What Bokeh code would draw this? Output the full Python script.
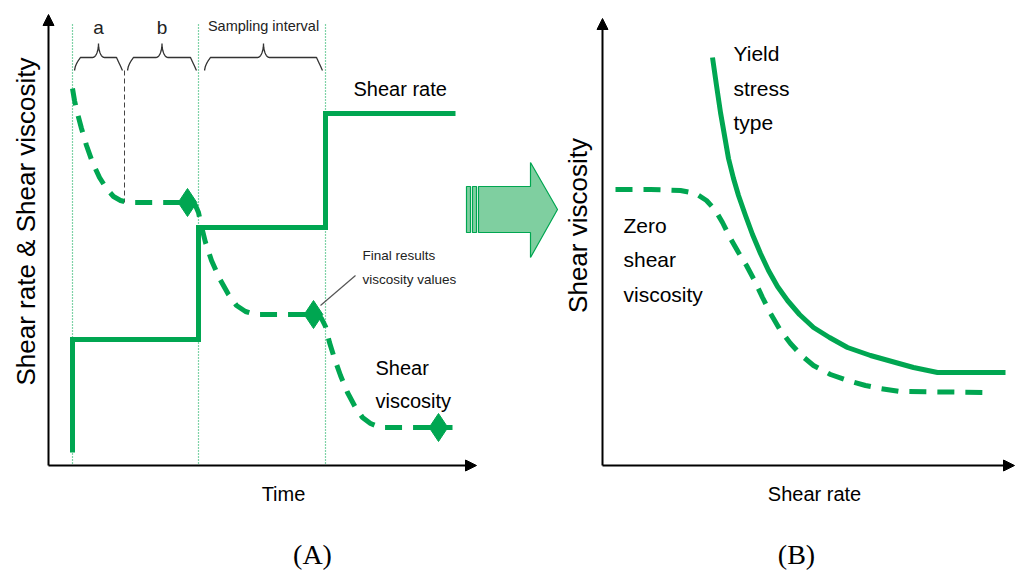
import numpy as np
from bokeh.plotting import figure
from bokeh.models import Range1d, Arrow, NormalHead
from bokeh.core.properties import value
from bokeh.embed import file_html
from bokeh.resources import INLINE

GREEN = "#00a651"
LIGHT = "#7fcfa0"
SANS = value("Liberation Sans")

# ---------------- Panel A : time test ----------------
# shear-rate steps (time, level)
rate_x = [72, 72, 198, 198, 325, 325, 455]
rate_y = [452, 339, 339, 227, 227, 113, 113]
# shear viscosity response (dashed)
visc_x = [72, 74, 77, 81, 86, 92, 99, 106, 113, 120, 128, 187,
          190, 195, 198, 201, 205, 211, 219, 228, 236, 245, 255, 313,
          316, 321, 325, 329, 334, 340, 347, 355, 362, 370, 380, 438, 452]
visc_y = [88, 100, 113, 128, 145, 162, 177, 188, 196, 200, 202, 202,
          202, 205, 212, 226, 242, 260, 278, 294, 305, 311, 314, 314,
          314, 318, 326, 342, 358, 375, 392, 407, 417, 423, 427, 427, 427]
# final results (diamonds)
final_x = [187, 313, 438]
final_y = [202, 314, 427]
# interval boundaries
bound_x = [72, 198, 325]
sep_x = [124]
# braces
brace_start = [74, 127, 204]
brace_end = [122, 196, 322]
brace_label = ["a", "b", "Sampling interval"]
brace_label_size = ["19px", "19px", "14.5px"]

# ---------------- Panel B : flow curves ----------------
yield_x = [712, 716, 720, 724, 728, 733, 738, 745, 752, 760, 768, 777, 787,
           799, 813, 829, 847, 870, 895, 913, 937, 1005]
yield_y = [57, 85, 112, 135, 158, 178, 195, 215, 234, 253, 270, 286, 300,
           314, 327, 337, 347, 355, 362, 367, 372, 372]
zero_x = [615, 650, 680, 695, 706, 715, 722, 730, 738, 746, 754, 762, 770,
          780, 790, 801, 813, 830, 847, 865, 880, 900, 990]
zero_y = [189, 189, 190, 193, 200, 210, 222, 238, 252, 265, 280, 297, 313,
          330, 343, 355, 365, 374, 380, 385, 388, 391, 392]

p = figure(width=1016, height=572, output_backend="svg", toolbar_location=None,
           x_range=Range1d(0, 1016), y_range=Range1d(572, 0),
           min_border=0, x_axis_location=None, y_axis_location=None)
p.grid.visible = False
p.outline_line_color = None
p.background_fill_color = "white"

# axes
for xs, ys, xe, ye in [(48, 465, 48, 14), (48, 465, 476, 465),
                       (602, 465, 602, 18), (602, 465, 1014, 465)]:
    p.add_layout(Arrow(end=NormalHead(size=11, fill_color="black", line_color="black"),
                       x_start=xs, y_start=ys, x_end=xe, y_end=ye,
                       line_width=2, line_color="black"))

# interval boundaries
p.segment(x0=bound_x, y0=[24] * 3, x1=bound_x, y1=[465] * 3,
          line_color=GREEN, line_width=1.2, line_dash="1 2")
p.segment(x0=sep_x, y0=[70], x1=sep_x, y1=[202],
          line_color="#444444", line_width=1, line_dash="5 3")

# braces
def brace(x0, x1, ytip=43, ymid=57, yend=70):
    m = (x0 + x1) / 2
    t = np.linspace(0, 1, 12)
    xs, ys = [], []
    xs += list(x0 + 6 * np.sin(t * np.pi / 2)); ys += list(yend - (yend - ymid) * np.sin(t * np.pi / 2) ** 0.6)
    xs += [m - 6]; ys += [ymid]
    xs += list(m - 6 + 6 * np.sin(t * np.pi / 2)); ys += list(ymid - (ymid - ytip) * (1 - np.cos(t * np.pi / 2)))
    xs += list(m + 6 * (1 - np.cos(t * np.pi / 2))); ys += list(ytip + (ymid - ytip) * np.sin(t * np.pi / 2))
    xs += [x1 - 6]; ys += [ymid]
    xs += list(x1 - 6 + 6 * (1 - np.cos(t * np.pi / 2))); ys += list(ymid + (yend - ymid) * (1 - np.cos(t * np.pi / 2)))
    return xs, ys

bx, by = [], []
for s, e in zip(brace_start, brace_end):
    xs, ys = brace(s, e)
    bx.append(xs); by.append(ys)
p.multi_line(xs=bx, ys=by, line_color="#333333", line_width=1.3)
for s, e, lab, fs, yy in zip(brace_start, brace_end, brace_label, brace_label_size, [27, 27, 25]):
    p.text(x=[(s + e) / 2], y=[yy], text=[lab], text_font=SANS, text_font_size=fs,
           text_align="center", text_baseline="middle", text_color="#222222")

# shear rate and viscosity
p.line(rate_x, rate_y, line_color=GREEN, line_width=5, line_join="miter")
p.line(visc_x, visc_y, line_color=GREEN, line_width=5, line_dash="17 11", line_join="round")
p.scatter(final_x, final_y, marker="diamond", size=28, fill_color=GREEN, line_color=GREEN)

# callout
p.segment(x0=[355], y0=[275], x1=[320], y1=[305], line_color="#555555", line_width=1.2)
p.text(x=[362, 362], y=[255, 279], text=["Final results", "viscosity values"],
       text_font=SANS, text_font_size="13.5px", text_baseline="middle", text_color="#222222")

p.text(x=[353], y=[88], text=["Shear rate"], text_font=SANS, text_font_size="20px",
       text_baseline="middle", text_color="black")
p.text(x=[375, 375], y=[367, 400], text=["Shear", "viscosity"], text_font=SANS,
       text_font_size="20px", text_baseline="middle", text_color="black")
p.text(x=[283], y=[493], text=["Time"], text_font=SANS, text_font_size="20px",
       text_align="center", text_baseline="middle", text_color="black")
p.text(x=[25], y=[221], text=["Shear rate & Shear viscosity"], text_font=SANS,
       text_font_size="26px", text_align="center", text_baseline="middle",
       angle=np.pi / 2, text_color="black")

# middle arrow
p.quad(left=[466, 472], right=[470, 476], top=[186, 186], bottom=[232, 232],
       fill_color=LIGHT, line_color=GREEN, line_width=1.2)
p.patch(x=[478, 530, 530, 557, 530, 530, 478], y=[186, 186, 162, 209, 257, 232, 232],
        fill_color=LIGHT, line_color=GREEN, line_width=1.2)

# panel B
p.line(yield_x, yield_y, line_color=GREEN, line_width=5, line_join="round")
p.line(zero_x, zero_y, line_color=GREEN, line_width=5, line_dash="17 11", line_join="round")
p.text(x=[733, 733, 733], y=[53, 88, 122], text=["Yield", "stress", "type"],
       text_font=SANS, text_font_size="21px", text_baseline="middle", text_color="black")
p.text(x=[623, 623, 623], y=[225, 259, 294], text=["Zero", "shear", "viscosity"],
       text_font=SANS, text_font_size="21px", text_baseline="middle", text_color="black")
p.text(x=[577], y=[225], text=["Shear viscosity"], text_font=SANS, text_font_size="26px",
       text_align="center", text_baseline="middle", angle=np.pi / 2, text_color="black")
p.text(x=[814], y=[493], text=["Shear rate"], text_font=SANS, text_font_size="20px",
       text_align="center", text_baseline="middle", text_color="black")

# panel captions
p.text(x=[312, 796], y=[554, 554], text=["(A)", "(B)"], text_font=value("Liberation Serif"),
       text_font_size="28px", text_align="center", text_baseline="middle", text_color="black")

open("out.html", "w").write(file_html(p, INLINE))
